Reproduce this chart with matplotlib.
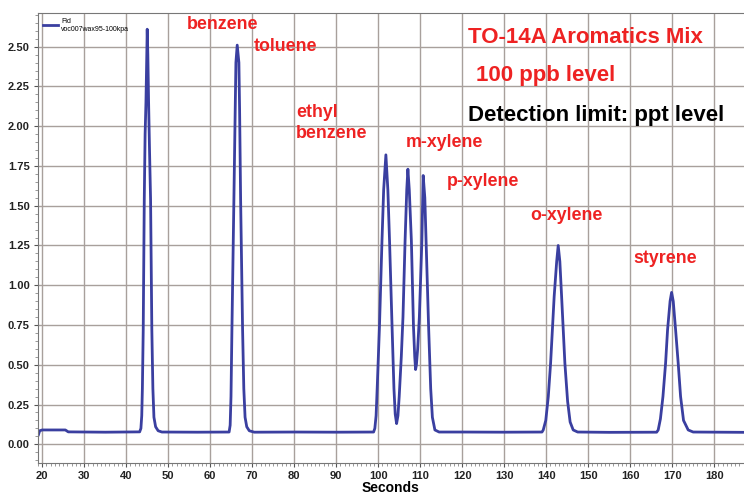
import matplotlib
matplotlib.use("Agg")
import matplotlib.pyplot as plt
from matplotlib.ticker import MultipleLocator

plt.rcParams['font.family'] = ['Liberation Sans', 'DejaVu Sans']

# chromatogram trace (seconds, detector signal)
seconds = [19.1, 19.4, 20, 25.5, 26.2, 35, 43.2,
           43.5, 43.7, 43.85, 44.05, 44.3, 44.5, 44.7, 44.9, 45.0, 45.15, 45.33, 45.55, 45.8,
           46.1, 46.35, 46.6, 47.0, 47.6, 48.5, 57,
           64.5, 64.75, 64.95, 65.17, 65.64, 65.95, 66.12, 66.43, 66.83, 67.0, 67.24,
           67.71, 68.0, 68.3, 68.7, 69.3, 70.5, 80, 90, 98.9,
           99.2, 99.5, 99.8, 100.3, 100.9, 101.3, 101.83, 102.3, 102.7, 103.3, 103.75,
           104.05, 104.38, 104.7, 105.0, 105.5, 105.9, 106.4, 106.8, 107.07, 107.4,
           107.9, 108.4, 108.7, 108.9, 109.1, 109.4, 109.8, 110.4, 110.71, 111.1,
           111.4, 112.0, 112.5, 112.9, 113.5, 114.5,
           120, 130, 139.0,
           139.3, 139.9, 140.5, 141.05, 141.9, 142.5, 142.86, 143.25, 143.67, 144.45,
           145.1, 145.7, 146.43, 147.5, 155, 166.3,
           166.67, 167.2, 167.8, 168.43, 168.9, 169.5, 169.86, 170.25, 170.81, 171.43,
           172.0, 172.7, 173.81, 175, 187.5]
signal = [0.06, 0.085, 0.09, 0.09, 0.078, 0.076, 0.078,
          0.1, 0.18, 0.35, 0.72, 1.54, 1.95, 2.15, 2.45, 2.61, 2.45, 2.15, 1.85, 1.54,
          0.72, 0.35, 0.17, 0.11, 0.085, 0.077, 0.076,
          0.077, 0.12, 0.3, 0.72, 1.54, 2.1, 2.4, 2.51, 2.4, 2.1, 1.54,
          0.72, 0.35, 0.17, 0.11, 0.085, 0.076, 0.077, 0.076, 0.077,
          0.1, 0.18, 0.38, 0.74, 1.28, 1.6, 1.82, 1.6, 1.28, 0.74, 0.35,
          0.19, 0.13, 0.18, 0.3, 0.55, 0.8, 1.28, 1.6, 1.73, 1.6,
          1.28, 0.74, 0.55, 0.47, 0.5, 0.6, 0.8, 1.28, 1.69, 1.55,
          1.28, 0.74, 0.35, 0.17, 0.09, 0.077,
          0.077, 0.076, 0.077,
          0.09, 0.15, 0.3, 0.51, 0.93, 1.15, 1.25, 1.15, 0.93, 0.51,
          0.27, 0.14, 0.09, 0.077, 0.075, 0.076,
          0.09, 0.16, 0.3, 0.51, 0.72, 0.9, 0.955, 0.9, 0.72, 0.51,
          0.3, 0.15, 0.09, 0.077, 0.075]

compounds = ["benzene", "toluene", "ethyl\nbenzene", "m-xylene", "p-xylene", "o-xylene", "styrene"]
label_x = [54.5, 70.4, 80.4, 106.6, 116.3, 136.3, 160.8]
label_y = [2.64, 2.50, 2.02, 1.90, 1.65, 1.44, 1.17]

yticks = [0.00, 0.25, 0.50, 0.75, 1.00, 1.25, 1.50, 1.75, 2.00, 2.25, 2.50]
xticks = list(range(20, 190, 10))

fig = plt.figure(figsize=(7.44, 4.96), dpi=100)
ax = fig.add_axes([0.0511, 0.0671, 0.9489, 0.9067])

ax.plot(seconds, signal, color='#3a3fa0', lw=2.0, label='Fid\nvoc007wax95-100kpa')

ax.set_xlim(19.0, 187.1)
ax.set_ylim(-0.116, 2.712)
ax.set_xticks(xticks)
ax.set_yticks(yticks)
ax.set_yticklabels([f"{v:.2f}" for v in yticks])
ax.xaxis.set_minor_locator(MultipleLocator(1))
ax.yaxis.set_minor_locator(MultipleLocator(0.05))
ax.tick_params(axis='both', which='major', labelsize=8, length=3, color='#555555', pad=3)
ax.tick_params(axis='both', which='minor', length=2, color='#888888')
for lab in ax.get_xticklabels() + ax.get_yticklabels():
    lab.set_fontweight('bold')
    lab.set_color('#222222')

ax.grid(True, which='major', color='#a8a09c', lw=1.0)
ax.set_axisbelow(True)
for side in ['top', 'left', 'bottom']:
    ax.spines[side].set_color('#777777')
ax.spines['right'].set_visible(False)

ax.set_xlabel('Seconds', fontsize=10, fontweight='bold', labelpad=0)

leg = ax.legend(loc='upper left', fontsize=5, frameon=False, handlelength=2.2,
                borderaxespad=0.3, handletextpad=0.4)

for name, x, y in zip(compounds, label_x, label_y):
    ax.text(x, y, name, color='#ee2222', fontsize=12.8, fontweight='bold',
            va='center', ha='left', linespacing=1.3)

ax.text(121.5, 2.56, 'TO-14A Aromatics Mix', color='#ee2222', fontsize=16,
        fontweight='bold', va='center')
ax.text(123.2, 2.32, '100 ppb level', color='#ee2222', fontsize=16,
        fontweight='bold', va='center')
ax.text(121.5, 2.07, 'Detection limit: ppt level', color='black', fontsize=16,
        fontweight='bold', va='center')

fig.savefig('out.png', dpi=100)
